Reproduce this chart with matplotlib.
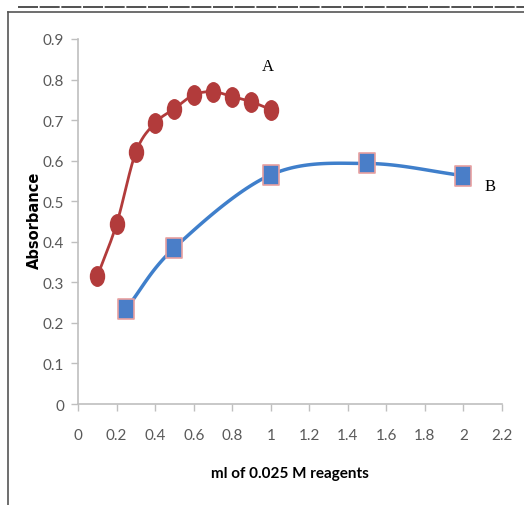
import numpy as np
import matplotlib
matplotlib.use('Agg')
import matplotlib.pyplot as plt
from matplotlib.lines import Line2D
from matplotlib.path import Path
from matplotlib.ticker import FuncFormatter

##########################################################################################################

# data

a_ml = [0.1, 0.2, 0.3, 0.4, 0.5, 0.6, 0.7, 0.8, 0.9, 1.0]
a_abs = [0.315, 0.444, 0.621, 0.693, 0.728, 0.762, 0.770, 0.758, 0.745, 0.726]

b_ml = [0.25, 0.5, 1.0, 1.5, 2.0]
b_abs = [0.235, 0.385, 0.565, 0.593, 0.563]

x_ticks = [0, 0.2, 0.4, 0.6, 0.8, 1.0, 1.2, 1.4, 1.6, 1.8, 2.0, 2.2]
y_ticks = [0, 0.1, 0.2, 0.3, 0.4, 0.5, 0.6, 0.7, 0.8, 0.9]

##########################################################################################################

def smooth(x, y, n=30):
    # catmull-rom style smoothing, like a spreadsheet "smoothed line"
    x = np.asarray(x, float)
    y = np.asarray(y, float)
    px = np.concatenate([[2 * x[0] - x[1]], x, [2 * x[-1] - x[-2]]])
    py = np.concatenate([[2 * y[0] - y[1]], y, [2 * y[-1] - y[-2]]])
    xs, ys = [], []
    t = np.linspace(0, 1, n)
    for i in range(1, len(px) - 2):
        for p, out in ((px, xs), (py, ys)):
            p0, p1, p2, p3 = p[i - 1], p[i], p[i + 1], p[i + 2]
            out.extend(0.5 * ((2 * p1) + (-p0 + p2) * t +
                              (2 * p0 - 5 * p1 + 4 * p2 - p3) * t ** 2 +
                              (-p0 + 3 * p1 - 3 * p2 + p3) * t ** 3))
    return xs, ys

# the scanned chart is squeezed sideways, so markers are taller than wide
circ = Path.unit_circle()
tall_circle = Path(circ.vertices * [0.72, 1.0], circ.codes)
tall_square = Path([(-0.42, -0.5), (0.42, -0.5), (0.42, 0.5), (-0.42, 0.5), (-0.42, -0.5)],
                   [Path.MOVETO, Path.LINETO, Path.LINETO, Path.LINETO, Path.CLOSEPOLY])

tick_font = ['Lato', 'DejaVu Sans']

fig = plt.figure(figsize=(5.24, 5.06), dpi=100)
ax = fig.add_axes([0.149, 0.1996, 0.809, 0.7214])

red = '#b23b3b'
blue = '#3f7fcb'

sx, sy = smooth(a_ml, a_abs)
ax.plot(sx, sy, color=red, lw=2, zorder=2)
ax.plot(a_ml, a_abs, ls='none', marker=tall_circle, color=red, ms=14, mec=red, zorder=3)

sx, sy = smooth(b_ml, b_abs)
ax.plot(sx, sy, color=blue, lw=2.5, zorder=2)
ax.plot(b_ml, b_abs, ls='none', marker=tall_square, color='#4a7ec8', ms=14, mec='#e8a0a0', mew=1.2, zorder=3)

ax.text(0.985, 0.833, 'A', family='Liberation Serif', fontsize=12, ha='center', va='center')
ax.text(2.14, 0.537, 'B', family='Liberation Serif', fontsize=12, ha='center', va='center')

ax.set_xlim(0, 2.2)
ax.set_ylim(0, 0.9)
ax.set_xticks(x_ticks)
ax.set_yticks(y_ticks)
ax.xaxis.set_major_formatter(FuncFormatter(lambda v, p: '%g' % round(v, 2)))
ax.yaxis.set_major_formatter(FuncFormatter(lambda v, p: '%g' % round(v, 2)))

for s in ('top', 'right'):
    ax.spines[s].set_visible(False)
for s in ('left', 'bottom'):
    ax.spines[s].set_color('#bfbfbf')
    ax.spines[s].set_linewidth(1.2)
ax.tick_params(colors='#bfbfbf', length=5, width=1, labelcolor='#595959', labelsize=11)
ax.tick_params(axis='x', pad=12)
ax.tick_params(axis='y', pad=5)
for lab in ax.get_xticklabels() + ax.get_yticklabels():
    lab.set_family(tick_font)

ax.set_xlabel('ml of 0.025 M reagents', family=tick_font, fontsize=11, fontweight='bold')
ax.xaxis.set_label_coords(0.5, -0.17)
ax.set_ylabel('Absorbance', fontsize=10.5, fontweight='bold')
ax.yaxis.set_label_coords(-0.085, 0.505)

# frame lines around the chart as in the scanned figure
fig.add_artist(Line2D([0.016, 0.016], [0.0, 0.974], color='#555555', lw=1.2))
fig.add_artist(Line2D([0.016, 1.0], [0.974, 0.974], color='#555555', lw=1.2))
fig.add_artist(Line2D([0.035, 1.0], [0.984, 0.984], color='#333333', lw=1.2, ls=(0, (12, 1))))

fig.savefig('out.png', dpi=100)
